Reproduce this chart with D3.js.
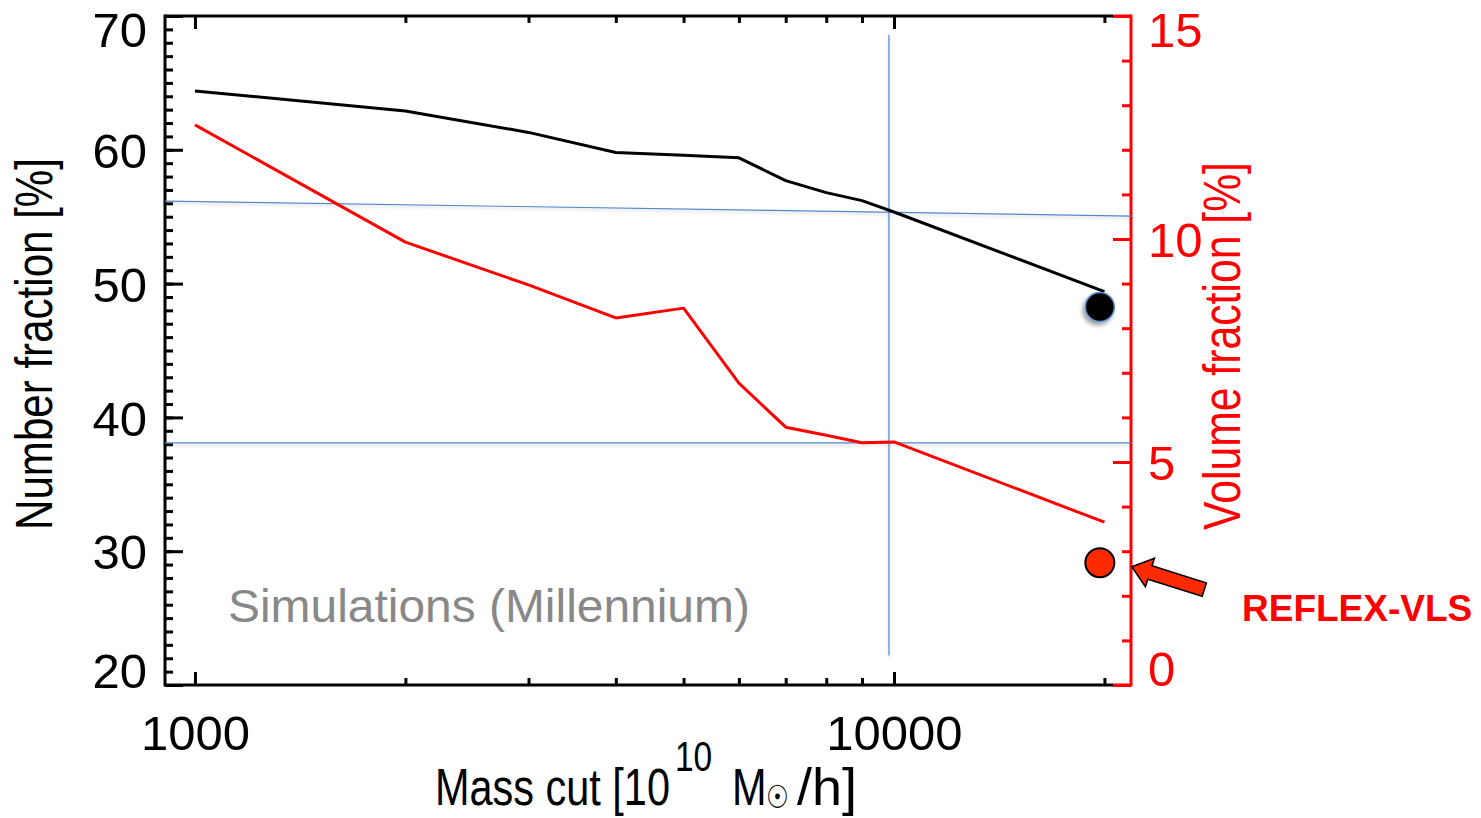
<!DOCTYPE html>
<html>
<head>
<meta charset="utf-8">
<script src="https://cdnjs.cloudflare.com/ajax/libs/d3/7.8.5/d3.min.js"></script>
<style>
body { margin: 0; background: #fff; }
text { font-family: "Liberation Sans", Arial, Helvetica, sans-serif; }
</style>
</head>
<body>
<div id="chart"></div>
<script>
// values
var massCut = [1000, 2000, 3000, 4000, 5000, 6000, 7000, 8000, 9000, 10000, 20000];
var numberFrac = [64.4, 62.9, 61.3, 59.8, 59.6, 59.4, 57.7, 56.8, 56.2, 55.35, 49.4];
var volumeFrac = [12.56, 9.93, 8.97, 8.23, 8.45, 6.77, 5.78, 5.6, 5.43, 5.45, 3.65];

// REFLEX-VLS measured point
var obsMass = [19700];
var obsNumber = [48.25];
var obsVolume = [2.74];

// ticks
var xMajorTicks = [1000, 10000];
var xMinorTicks = [2000, 3000, 4000, 5000, 6000, 7000, 8000, 9000, 20000];
var leftMajorTicks = [20, 30, 40, 50, 60, 70];
var leftMinorTicks = d3.range(20, 71, 1);
var rightMajorTicks = [0, 5, 10, 15];
var rightMinorTicks = d3.range(0, 16, 1);

// blue guide lines, in [mass, number fraction]
var guideLines = [
    [[906, 56.17], [21830, 55.05]],
    [[906, 38.09], [21830, 38.09]],
    [[9835, 68.6], [9835, 22.2]]
];

var width = 1481;
var height = 818;
var mLeft = 165, mRight = 1131, mTop = 16, mBottom = 685;
var frameRight = 1113;
var fontStack = "'Liberation Sans', Arial, Helvetica, sans-serif";

var svg = d3.select("#chart")
    .append("svg")
    .attr("width", width)
    .attr("height", height);

var defs = svg.append("defs");
defs.append("filter").attr("id", "lineShadow")
    .attr("filterUnits", "userSpaceOnUse")
    .attr("x", 0).attr("y", 0).attr("width", width).attr("height", height)
    .append("feDropShadow")
    .attr("dx", 0).attr("dy", 2).attr("stdDeviation", 1.5)
    .attr("flood-color", "#000").attr("flood-opacity", 0.18);
defs.append("filter").attr("id", "dotShadow")
    .attr("x", "-50%").attr("y", "-50%").attr("width", "200%").attr("height", "200%")
    .append("feDropShadow")
    .attr("dx", -2).attr("dy", 3).attr("stdDeviation", 2)
    .attr("flood-color", "#000").attr("flood-opacity", 0.4);

var x = d3.scaleLog().domain([906, 21830]).range([mLeft, mRight]);
var yLeft = d3.scaleLinear().domain([20, 70]).range([mBottom, mTop]);
var yRight = d3.scaleLinear().domain([0, 15]).range([mBottom, mTop]);

function styleAxis(g, color, size) {
    g.select(".domain").remove();
    g.attr("font-size", size).attr("font-family", fontStack);
    g.selectAll(".tick line").attr("stroke", color).attr("stroke-width", 3);
    g.selectAll(".tick text").attr("fill", color);
}

// bottom axis
svg.append("g")
    .attr("transform", "translate(0," + mBottom + ")")
    .call(d3.axisBottom(x).tickValues(xMajorTicks).tickSizeInner(-13).tickSizeOuter(0)
        .tickPadding(30).tickFormat(d3.format("d")))
    .call(styleAxis, "#000", 49);
svg.append("g")
    .attr("transform", "translate(0," + mBottom + ")")
    .call(d3.axisBottom(x).tickValues(xMinorTicks).tickSizeInner(-7).tickSizeOuter(0).tickFormat(""))
    .call(styleAxis, "#000", 10);

// top axis
svg.append("g")
    .attr("transform", "translate(0," + mTop + ")")
    .call(d3.axisTop(x).tickValues(xMajorTicks).tickSizeInner(-13).tickSizeOuter(0).tickFormat(""))
    .call(styleAxis, "#000", 10);
svg.append("g")
    .attr("transform", "translate(0," + mTop + ")")
    .call(d3.axisTop(x).tickValues(xMinorTicks).tickSizeInner(-7).tickSizeOuter(0).tickFormat(""))
    .call(styleAxis, "#000", 10);

// left axis
svg.append("g")
    .attr("transform", "translate(" + mLeft + ",0)")
    .call(d3.axisLeft(yLeft).tickValues(leftMinorTicks).tickSizeInner(-8).tickSizeOuter(0).tickFormat(""))
    .call(styleAxis, "#000", 10);
var leftAxis = svg.append("g")
    .attr("transform", "translate(" + mLeft + ",0)")
    .call(d3.axisLeft(yLeft).tickValues(leftMajorTicks).tickSizeInner(-18).tickSizeOuter(0).tickPadding(18))
    .call(styleAxis, "#000", 49);
leftAxis.selectAll(".tick text")
    .attr("dy", "0.36em")
    .attr("y", function(d) { return d == 70 ? 13 : (d == 20 ? -15 : 0); });

// right axis
svg.append("g")
    .attr("transform", "translate(" + mRight + ",0)")
    .call(d3.axisRight(yRight).tickValues(rightMinorTicks).tickSizeInner(-9).tickSizeOuter(0).tickFormat(""))
    .call(styleAxis, "#ff0000", 10);
var rightAxis = svg.append("g")
    .attr("transform", "translate(" + mRight + ",0)")
    .call(d3.axisRight(yRight).tickValues(rightMajorTicks).tickSizeInner(-18).tickSizeOuter(0).tickPadding(17))
    .call(styleAxis, "#ff0000", 49);
rightAxis.selectAll(".tick text")
    .attr("dy", "0.36em")
    .attr("y", function(d) { return d == 15 ? 13 : (d == 0 ? -17 : 0); });

// frame
svg.append("line").attr("x1", mLeft).attr("x2", mLeft).attr("y1", mTop - 1.5).attr("y2", mBottom + 1.5)
    .attr("stroke", "#000").attr("stroke-width", 3);
[mTop, mBottom].forEach(function(yy) {
    svg.append("line").attr("x1", mLeft).attr("x2", frameRight).attr("y1", yy).attr("y2", yy)
        .attr("stroke", "#000").attr("stroke-width", 3);
    svg.append("line").attr("x1", frameRight).attr("x2", mRight).attr("y1", yy).attr("y2", yy)
        .attr("stroke", "#ff0000").attr("stroke-width", 3);
});
svg.append("line").attr("x1", mRight).attr("x2", mRight).attr("y1", mTop - 1.5).attr("y2", mBottom + 1.5)
    .attr("stroke", "#ff0000").attr("stroke-width", 3);

// blue guides
var guide = d3.line()
    .x(function(d) { return x(d[0]); })
    .y(function(d) { return yLeft(d[1]); });
svg.selectAll(".guide")
    .data(guideLines)
    .enter().append("path")
    .attr("class", "guide")
    .attr("d", guide)
    .attr("fill", "none")
    .attr("stroke", "#4f89cf")
    .attr("stroke-width", 1.2)
    .attr("filter", "url(#lineShadow)");

// series
var numberLine = d3.line()
    .x(function(d, i) { return x(massCut[i]); })
    .y(function(d) { return yLeft(d); });
var volumeLine = d3.line()
    .x(function(d, i) { return x(massCut[i]); })
    .y(function(d) { return yRight(d); });

svg.append("path")
    .attr("d", numberLine(numberFrac))
    .attr("fill", "none").attr("stroke", "#000").attr("stroke-width", 3)
    .attr("stroke-linejoin", "round");
svg.append("path")
    .attr("d", volumeLine(volumeFrac))
    .attr("fill", "none").attr("stroke", "#ff0000").attr("stroke-width", 3)
    .attr("stroke-linejoin", "round");

// observed points
svg.selectAll(".obsNumber")
    .data(obsMass)
    .enter().append("circle")
    .attr("class", "obsNumber")
    .attr("cx", function(d) { return x(d); })
    .attr("cy", function(d, i) { return yLeft(obsNumber[i]); })
    .attr("r", 14.5)
    .attr("fill", "#000").attr("stroke", "#5b8fd4").attr("stroke-width", 1.5)
    .attr("filter", "url(#dotShadow)");
svg.selectAll(".obsVolume")
    .data(obsMass)
    .enter().append("circle")
    .attr("class", "obsVolume")
    .attr("cx", function(d) { return x(d); })
    .attr("cy", function(d, i) { return yRight(obsVolume[i]); })
    .attr("r", 14.5)
    .attr("fill", "#ff2a00").attr("stroke", "#000").attr("stroke-width", 2);

// arrow pointing at the red point
var cx = x(obsMass[0]), cy = yRight(obsVolume[0]);
svg.append("path")
    .attr("transform", "translate(" + (cx + 32) + "," + (cy + 4) + ") rotate(17.5)")
    .attr("d", "M0,0 L19,-15 L19,-7 L76,-7 L76,7 L19,7 L19,15 Z")
    .attr("fill", "#ff2a00").attr("stroke", "#000").attr("stroke-width", 1.5)
    .attr("stroke-linejoin", "miter");

svg.append("text")
    .attr("x", 1242).attr("y", 621)
    .attr("font-size", 37).attr("font-weight", "bold").attr("fill", "#ff0000")
    .text("REFLEX-VLS");

// squeeze a text horizontally to a given width
function fitText(t, w) {
    var n = t.node().getComputedTextLength();
    return w / n;
}

var sim = svg.append("text")
    .attr("font-size", 47).attr("fill", "#888888")
    .text("Simulations (Millennium)");
sim.attr("transform", "translate(228,622) scale(" + fitText(sim, 522) + ",1)");

// axis titles
var gl = svg.append("g");
var tl = gl.append("text").attr("font-size", 52).attr("fill", "#000")
    .attr("text-anchor", "middle").text("Number fraction [%]");
gl.attr("transform", "translate(52,344) rotate(-90) scale(" + fitText(tl, 372) + ",1)");

var gr = svg.append("g");
var tr = gr.append("text").attr("font-size", 52).attr("fill", "#ff0000")
    .attr("text-anchor", "middle").text("Volume fraction [%]");
gr.attr("transform", "translate(1240,346) rotate(-90) scale(" + fitText(tr, 368) + ",1)");

// x title, pieces placed in the squeezed frame
var gx = svg.append("g");
var tx0 = gx.append("text").attr("font-size", 52).attr("fill", "#000").text("Mass cut [10");
var sx = fitText(tx0, 235);
gx.attr("transform", "translate(435,805) scale(" + sx + ",1)");
gx.append("text").attr("font-size", 42).attr("fill", "#000")
    .attr("x", 240 / sx).attr("y", -34).text("10");
gx.append("text").attr("font-size", 52).attr("fill", "#000")
    .attr("x", 297 / sx).text("M");
gx.append("text").attr("font-size", 32).attr("fill", "#000")
    .attr("font-family", "'DejaVu Sans', sans-serif")
    .attr("x", 331 / sx).attr("y", 3).text("\u2609");
gx.append("text").attr("font-size", 52).attr("fill", "#000")
    .attr("x", 362 / sx).text("/h]")
    .attr("textLength", 60 / sx).attr("lengthAdjust", "spacingAndGlyphs");
</script>
</body>
</html>
